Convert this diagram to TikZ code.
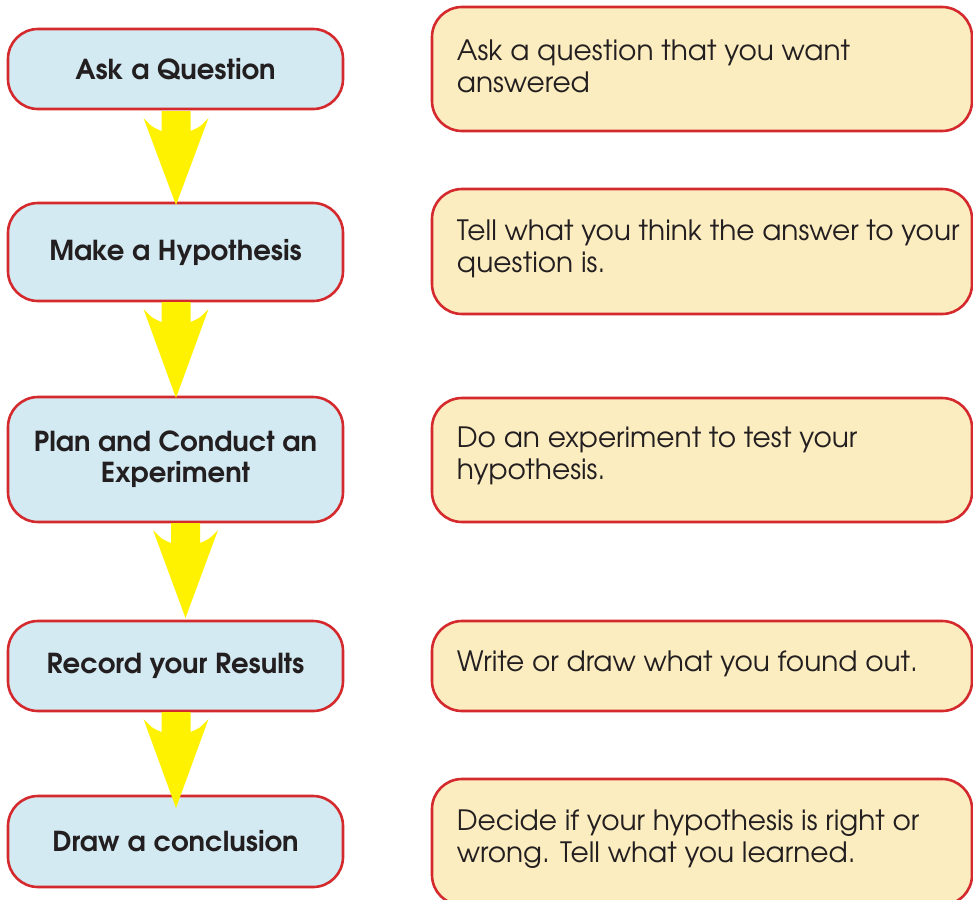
\documentclass[tikz,border=0pt]{standalone}
\usepackage{fontspec}
\setmainfont{TeX Gyre Adventor}
\usetikzlibrary{calc}
\definecolor{boxred}{HTML}{D42A2E}
\definecolor{stepfill}{HTML}{D3EAF2}
\definecolor{notefill}{HTML}{FBEDC0}
\definecolor{arrowyellow}{HTML}{FFF200}
\definecolor{ink}{HTML}{231F20}
\tikzset{
  stepbox/.style={draw=boxred, line width=2.6pt, fill=stepfill, rounded corners=30pt,
    minimum width=335pt, inner sep=0pt, text=ink, align=center,
    font=\fontsize{27.5}{31}\selectfont\bfseries},
  notebox/.style={draw=boxred, line width=2.6pt, fill=notefill, rounded corners=30pt,
    minimum width=540pt, inner sep=0pt},
  notetext/.style={anchor=west, inner sep=0pt, align=left, text=ink,
    font=\fontsize{28}{32}\selectfont},
  flowarrow/.style={fill=arrowyellow, draw=none}
}
% yellow notched arrow: #1 centre x, #2 top y, #3 tip y
\newcommand{\flowarrow}[3]{%
  \fill[flowarrow] (#1-14.5,#2) -- (#1+14.5,#2) -- (#1+14.5,#2+20)
    .. controls (#1+24,#2+16) .. (#1+32.5,#2+7) -- (#1,#3)
    -- (#1-32.5,#2+7) .. controls (#1-24,#2+16) .. (#1-14.5,#2+20) -- cycle;}
\begin{document}
\begin{tikzpicture}[x=1pt,y=-1pt]
  \useasboundingbox (0,0) rectangle (973,899);
  % steps
  \node[stepbox, minimum height=80pt]  (s1) at (175.5,69)    {Ask a Question};
  \node[stepbox, minimum height=98pt]  (s2) at (175.5,252)   {Make a Hypothesis};
  \node[stepbox, minimum height=125pt] (s3) at (175.5,459.5) {Plan and Conduct an\\Experiment};
  \node[stepbox, minimum height=90pt]  (s4) at (175.5,666)   {Record your Results};
  \node[stepbox, minimum height=91pt]  (s5) at (175.5,841.5) {Draw a conclusion};
  % notes
  \node[notebox, minimum height=124pt] (n1) at (702,69)    {};
  \node[notebox, minimum height=125pt] (n2) at (702,251.5) {};
  \node[notebox, minimum height=124pt] (n3) at (702,460)   {};
  \node[notebox, minimum height=90pt]  (n4) at (702,666)   {};
  \node[notebox, minimum height=126pt] (n5) at (702,842)   {};
  \node[notetext] (t1) at ($(n1.west)+(26,-3)$) {Ask a question that you want\\answered};
  \node[notetext] (t2) at ($(n2.west)+(26,-3)$) {Tell what you think the answer to your\\question is.};
  \node[notetext] (t3) at ($(n3.west)+(26,-4)$) {Do an experiment to test your\\hypothesis.};
  \node[notetext] (t4) at ($(n4.west)+(26,-2)$) {Write or draw what you found out.};
  \node[notetext] (t5) at ($(n5.west)+(26,-3)$) {Decide if your hypothesis is right or\\wrong. Tell what you learned.};
  % arrows between steps
  \flowarrow{176}{111}{205}
  \flowarrow{176}{302}{398}
  \flowarrow{185.5}{523}{618}
  \flowarrow{176}{712}{808}
\end{tikzpicture}
\end{document}
